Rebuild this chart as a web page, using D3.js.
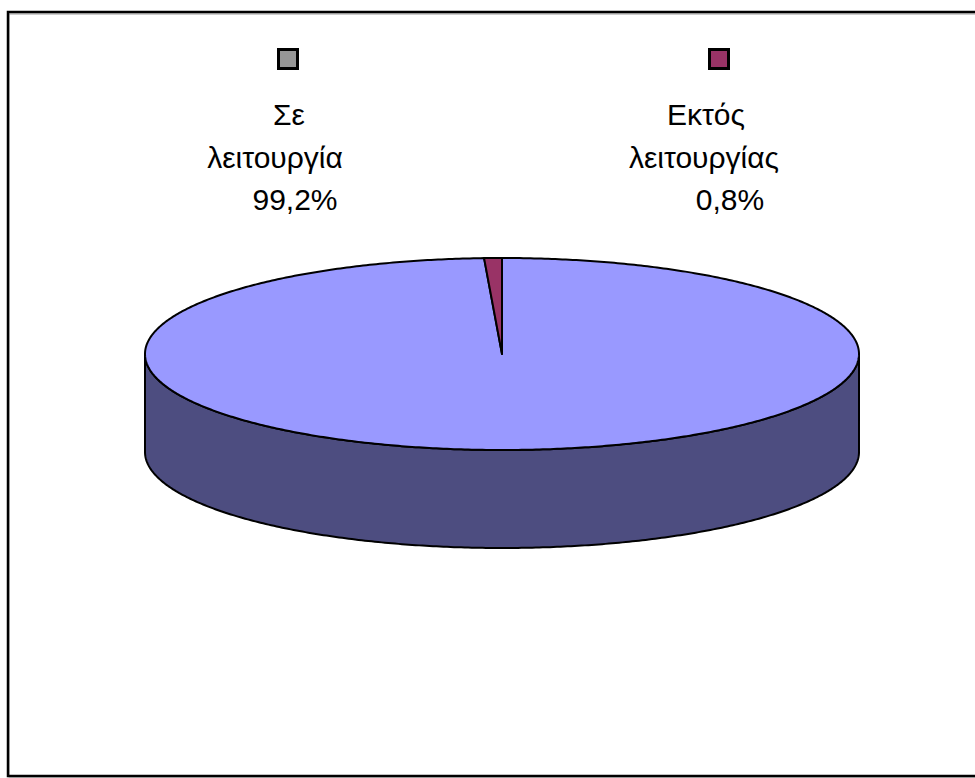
<!DOCTYPE html>
<html>
<head>
<meta charset="utf-8">
<script src="https://cdn.jsdelivr.net/npm/d3@7"></script>
<style>
html,body{margin:0;padding:0;background:#fff;}
svg{display:block;}
text{font-family:"Liberation Sans",Arial,sans-serif;fill:#000;}
</style>
</head>
<body>
<svg id="chart" width="975" height="778"></svg>
<script>
// ---- data ----
const categories = ["Σε λειτουργία", "Εκτός λειτουργίας"];
const labelLines = [["Σε", "λειτουργία"], ["Εκτός", "λειτουργίας"]];
const values = [99.2, 0.8];
const percentLabels = ["99,2%", "0,8%"];

// ---- styles ----
const topColors = ["#9999FF", "#993366"];
const sideColors = ["#4D4D80", "#4D1A33"];
const legendColors = ["#969696", "#993366"];

const svg = d3.select("#chart");

// chart frame
svg.append("rect").attr("x", 9).attr("y", 14).attr("width", 1000).attr("height", 763)
  .attr("fill", "none").attr("stroke", "#9a9a9a").attr("stroke-width", 1);
svg.append("rect").attr("x", 8).attr("y", 12).attr("width", 1000).attr("height", 764)
  .attr("fill", "none").attr("stroke", "#000").attr("stroke-width", 2.5);

// pie geometry
const cx = 502, cy = 354, rx = 357, ry = 96, depth = 98;
const pie = d3.pie().sort(null).value(d => d).startAngle(0).endAngle(2 * Math.PI);
const arcs = pie(values);

const px = a => cx + rx * Math.sin(a);
const py = a => cy - ry * Math.cos(a);

function arcPoints(a0, a1, dy) {
  const n = Math.max(2, Math.ceil(Math.abs(a1 - a0) / 0.01));
  const pts = [];
  for (let i = 0; i <= n; i++) {
    const a = a0 + (a1 - a0) * i / n;
    pts.push([px(a), py(a) + dy]);
  }
  return pts;
}
const line = d3.line();

// side walls (visible front half: angles PI/2 .. 3PI/2)
const g = svg.append("g");
arcs.forEach((d, i) => {
  const s = Math.max(d.startAngle, Math.PI / 2);
  const e = Math.min(d.endAngle, 3 * Math.PI / 2);
  if (e <= s) return;
  const top = arcPoints(s, e, 0);
  const bot = arcPoints(e, s, depth);
  g.append("path")
    .attr("d", line(top.concat(bot)) + "Z")
    .attr("fill", sideColors[i]).attr("stroke", "#000").attr("stroke-width", 2)
    .attr("stroke-linejoin", "round");
});

// top faces
arcs.forEach((d, i) => {
  const pts = [[cx, cy]].concat(arcPoints(d.startAngle, d.endAngle, 0));
  g.append("path")
    .attr("d", line(pts) + "Z")
    .attr("fill", topColors[i]).attr("stroke", "#000").attr("stroke-width", 2)
    .attr("stroke-linejoin", "round");
});

// legend markers
const legendX = [288, 719];
categories.forEach((c, i) => {
  svg.append("rect")
    .attr("x", legendX[i] - 9.5).attr("y", 49.5).attr("width", 19).attr("height", 19)
    .attr("fill", legendColors[i]).attr("stroke", "#000").attr("stroke-width", 3);
});

// labels
const lineX = [[289, 275, 295], [706, 704, 730]];
const lineY = [125, 168, 210];
categories.forEach((c, i) => {
  const lines = labelLines[i].concat([percentLabels[i]]);
  lines.forEach((t, j) => {
    svg.append("text")
      .attr("x", lineX[i][j]).attr("y", lineY[j])
      .attr("text-anchor", "middle")
      .attr("font-size", 30)
      .text(t);
  });
});
</script>
</body>
</html>
